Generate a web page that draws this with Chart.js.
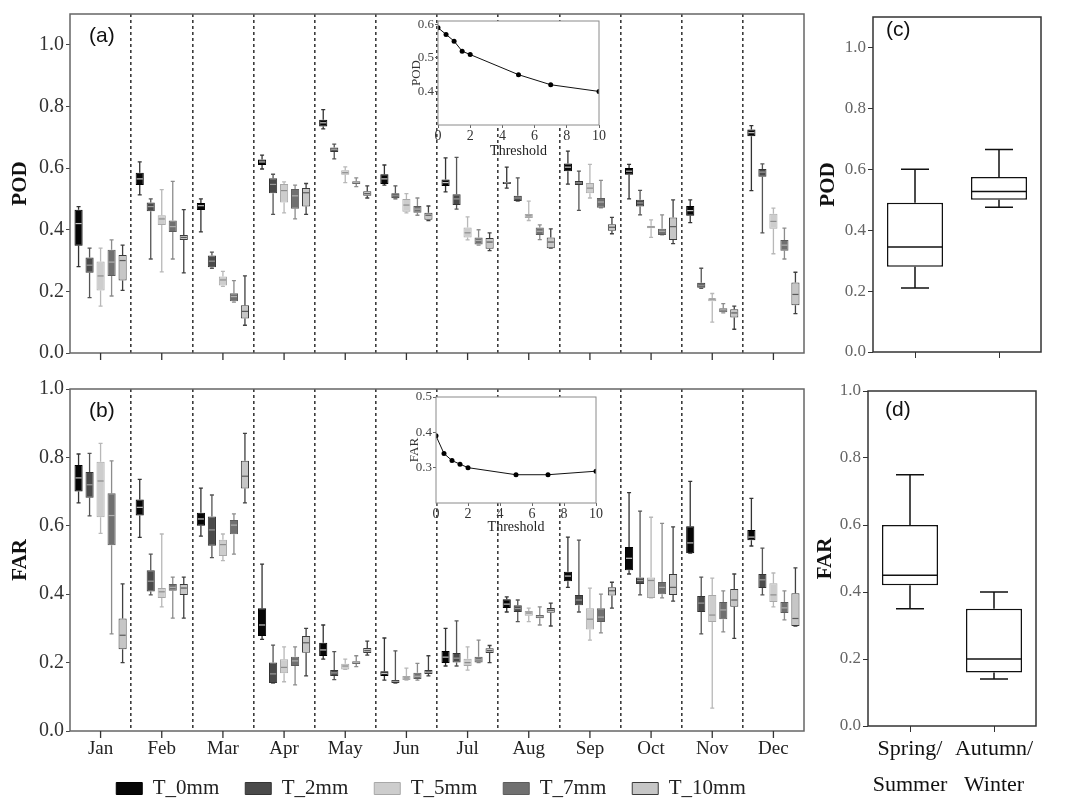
<!DOCTYPE html>
<html>
<head>
<meta charset="utf-8">
<script src="https://cdn.jsdelivr.net/npm/chart.js@4.4.1/dist/chart.umd.min.js"></script>
<style>
  body { margin: 0; background: #fff; width: 1067px; height: 798px; position: relative; overflow: hidden; }
  canvas { position: absolute; }
</style>
</head>
<body>
<canvas id="podMonth" style="left:0px;top:0px" width="820" height="370"></canvas>
<canvas id="farMonth" style="left:0px;top:370px" width="866" height="446"></canvas>
<canvas id="podInset" style="left:400px;top:10px" width="210" height="150"></canvas>
<canvas id="farInset" style="left:398px;top:386px" width="210" height="150"></canvas>
<canvas id="podSeason" style="left:806px;top:0px" width="261" height="370"></canvas>
<canvas id="farSeason" style="left:806px;top:370px" width="261" height="428"></canvas>
<script>
// ---- data: each box is [min, q1, median, q3, max] ----
const months = ["Jan","Feb","Mar","Apr","May","Jun","Jul","Aug","Sep","Oct","Nov","Dec"];
const seriesNames = ["T_0mm","T_2mm","T_5mm","T_7mm","T_10mm"];

const podT0 = [[0.28,0.348,0.42,0.465,0.475],[0.513,0.545,0.565,0.585,0.62],[0.393,0.464,0.478,0.487,0.50],
  [0.597,0.61,0.62,0.628,0.642],[0.727,0.735,0.747,0.757,0.79],[0.545,0.548,0.565,0.58,0.61],
  [0.523,0.542,0.553,0.563,0.633],[0.535,0.548,0.552,0.555,0.603],[0.548,0.59,0.603,0.615,0.655],
  [0.50,0.578,0.59,0.60,0.612],[0.423,0.445,0.462,0.477,0.497],[0.527,0.703,0.715,0.725,0.738]];
const podT2 = [[0.18,0.26,0.285,0.31,0.34],[0.305,0.46,0.475,0.488,0.50],[0.275,0.278,0.298,0.316,0.327],
  [0.45,0.518,0.547,0.567,0.58],[0.63,0.652,0.66,0.667,0.678],[0.50,0.502,0.51,0.518,0.542],
  [0.467,0.48,0.50,0.515,0.635],[0.493,0.493,0.503,0.51,0.568],[0.463,0.545,0.552,0.558,0.59],
  [0.448,0.475,0.487,0.497,0.528],[0.21,0.212,0.22,0.228,0.275],[0.39,0.572,0.587,0.597,0.614]];
const podT5 = [[0.152,0.203,0.25,0.297,0.34],[0.263,0.415,0.435,0.447,0.53],[0.216,0.219,0.237,0.248,0.265],
  [0.455,0.488,0.527,0.548,0.555],[0.553,0.578,0.585,0.593,0.604],[0.455,0.458,0.48,0.50,0.517],
  [0.367,0.375,0.39,0.407,0.442],[0.43,0.438,0.445,0.451,0.493],[0.503,0.518,0.535,0.552,0.612],
  [0.375,0.405,0.409,0.413,0.432],[0.10,0.168,0.175,0.178,0.193],[0.322,0.403,0.427,0.452,0.47]];
const podT7 = [[0.185,0.25,0.295,0.335,0.367],[0.305,0.393,0.41,0.43,0.557],[0.165,0.168,0.183,0.194,0.235],
  [0.435,0.468,0.51,0.532,0.545],[0.54,0.548,0.553,0.557,0.568],[0.447,0.455,0.467,0.477,0.503],
  [0.35,0.352,0.365,0.375,0.40],[0.368,0.383,0.395,0.407,0.416],[0.471,0.471,0.49,0.503,0.56],
  [0.383,0.383,0.395,0.403,0.448],[0.13,0.132,0.14,0.145,0.16],[0.305,0.332,0.35,0.367,0.405]];
const podT10 = [[0.203,0.235,0.30,0.318,0.35],[0.26,0.367,0.375,0.383,0.465],[0.09,0.112,0.135,0.155,0.25],
  [0.45,0.475,0.52,0.535,0.55],[0.503,0.51,0.517,0.525,0.542],[0.43,0.432,0.447,0.455,0.477],
  [0.332,0.338,0.36,0.373,0.39],[0.34,0.34,0.36,0.375,0.403],[0.387,0.397,0.408,0.418,0.44],
  [0.355,0.367,0.41,0.44,0.497],[0.077,0.115,0.13,0.142,0.152],[0.128,0.155,0.19,0.229,0.262]];

const farT0 = [[0.667,0.70,0.74,0.778,0.81],[0.566,0.63,0.654,0.677,0.736],[0.57,0.60,0.62,0.638,0.71],
  [0.268,0.278,0.31,0.359,0.488],[0.21,0.219,0.237,0.258,0.31],[0.149,0.161,0.168,0.175,0.272],
  [0.19,0.199,0.216,0.234,0.30],[0.348,0.36,0.371,0.385,0.392],[0.42,0.438,0.453,0.466,0.567],
  [0.459,0.47,0.505,0.538,0.697],[0.52,0.52,0.55,0.599,0.73],[0.541,0.558,0.567,0.588,0.68]];
const farT2 = [[0.629,0.682,0.72,0.757,0.812],[0.398,0.408,0.438,0.47,0.517],[0.507,0.542,0.588,0.627,0.69],
  [0.14,0.14,0.167,0.20,0.251],[0.15,0.161,0.17,0.178,0.232],[0.14,0.14,0.145,0.149,0.234],
  [0.19,0.20,0.213,0.228,0.322],[0.32,0.348,0.358,0.368,0.383],[0.348,0.368,0.383,0.398,0.558],
  [0.398,0.43,0.44,0.449,0.643],[0.284,0.348,0.374,0.395,0.45],[0.398,0.418,0.442,0.459,0.535]];
const farT5 = [[0.578,0.625,0.731,0.787,0.841],[0.363,0.389,0.407,0.418,0.576],[0.498,0.512,0.545,0.559,0.576],
  [0.144,0.169,0.186,0.21,0.246],[0.18,0.18,0.19,0.197,0.21],[0.149,0.149,0.155,0.161,0.184],
  [0.178,0.19,0.20,0.211,0.246],[0.32,0.337,0.345,0.351,0.359],[0.266,0.297,0.327,0.359,0.418],
  [0.389,0.389,0.44,0.449,0.625],[0.067,0.319,0.339,0.398,0.447],[0.363,0.377,0.398,0.432,0.462]];
const farT7 = [[0.284,0.543,0.63,0.695,0.79],[0.33,0.41,0.42,0.43,0.45],[0.517,0.575,0.602,0.617,0.635],
  [0.135,0.19,0.205,0.217,0.246],[0.188,0.196,0.20,0.204,0.22],[0.149,0.152,0.16,0.17,0.198],
  [0.20,0.20,0.208,0.217,0.266],[0.31,0.33,0.335,0.339,0.363],[0.287,0.319,0.333,0.359,0.40],
  [0.389,0.40,0.42,0.436,0.607],[0.29,0.327,0.354,0.377,0.41],[0.325,0.345,0.36,0.377,0.41]];
const farT10 = [[0.20,0.239,0.28,0.329,0.43],[0.33,0.398,0.418,0.43,0.45],[0.667,0.709,0.745,0.79,0.87],
  [0.161,0.229,0.258,0.278,0.30],[0.222,0.228,0.235,0.243,0.263],[0.161,0.167,0.173,0.178,0.22],
  [0.20,0.228,0.235,0.242,0.25],[0.307,0.346,0.353,0.36,0.374],[0.359,0.396,0.41,0.42,0.435],
  [0.38,0.398,0.42,0.459,0.597],[0.271,0.363,0.383,0.415,0.459],[0.307,0.307,0.329,0.403,0.477]];

const seasons = [["Spring/","Summer"],["Autumn/","Winter"]];
const podBySeason = [[0.21,0.28,0.345,0.49,0.60],[0.475,0.50,0.527,0.575,0.665]];
const farBySeason = [[0.35,0.42,0.45,0.60,0.75],[0.14,0.16,0.20,0.35,0.40]];

const thresholds = [0, 0.5, 1, 1.5, 2, 5, 7, 10];
const podByThreshold = [0.59, 0.57, 0.55, 0.52, 0.51, 0.45, 0.42, 0.40];
const farByThreshold = [0.39, 0.34, 0.32, 0.31, 0.30, 0.28, 0.28, 0.29];

// ---- styles ----
const boxFill    = ["#060606","#4a4a4a","#cdcdcd","#707070","#c6c6c6"];
const boxEdge    = ["#000000","#353535","#a8a8a8","#5c5c5c","#3a3a3a"];
const whiskerCol = ["#333333","#555555","#b8b8b8","#8c8c8c","#404040"];
const medianCol  = ["#c4c4c4","#9a9a9a","#8d8d8d","#b0b0b0","#5a5a5a"];
const SERIF = '"Liberation Serif", "Times New Roman", serif';
const SANS = '"Liberation Sans", Arial, sans-serif';

// --- whiskers + medians on top of floating bars ---
const boxPlot = {
  id: "boxPlot",
  beforeDatasetsDraw(chart, args, o) {
    const { ctx } = chart, y = chart.scales.y;
    chart.data.datasets.forEach((ds, i) => {
      chart.getDatasetMeta(i).data.forEach((bar, j) => {
        const s = ds.stats[j], x = bar.x, c = o.cap / 2;
        const top = y.getPixelForValue(s[4]), bot = y.getPixelForValue(s[0]);
        ctx.save();
        ctx.strokeStyle = ds.whisker;
        ctx.lineWidth = o.lineWidth;
        ctx.beginPath();
        ctx.moveTo(x, top); ctx.lineTo(x, y.getPixelForValue(s[3]));
        ctx.moveTo(x, bot); ctx.lineTo(x, y.getPixelForValue(s[1]));
        ctx.moveTo(x - c, top); ctx.lineTo(x + c, top);
        ctx.moveTo(x - c, bot); ctx.lineTo(x + c, bot);
        ctx.stroke();
        ctx.restore();
      });
    });
  },
  afterDatasetsDraw(chart, args, o) {
    const { ctx } = chart, y = chart.scales.y;
    chart.data.datasets.forEach((ds, i) => {
      chart.getDatasetMeta(i).data.forEach((bar, j) => {
        const py = y.getPixelForValue(ds.stats[j][2]), hw = bar.width / 2 - o.inset;
        ctx.save();
        ctx.strokeStyle = ds.median;
        ctx.lineWidth = o.medianWidth;
        ctx.beginPath();
        ctx.moveTo(bar.x - hw, py); ctx.lineTo(bar.x + hw, py);
        ctx.stroke();
        ctx.restore();
      });
    });
  }
};

// --- frame round the plot area, centre ticks, panel letter ---
const frame = {
  id: "frame",
  beforeDraw(chart, args, o) {
    if (!o.background) return;
    const { ctx, chartArea: a } = chart;
    ctx.save();
    ctx.fillStyle = o.background;
    ctx.fillRect(a.left, a.top, a.right - a.left, a.bottom - a.top);
    ctx.restore();
  },
  afterDraw(chart, args, o) {
    const { ctx, chartArea: a } = chart;
    ctx.save();
    ctx.strokeStyle = o.color;
    ctx.lineWidth = o.width;
    ctx.strokeRect(a.left, a.top, a.right - a.left, a.bottom - a.top);
    if (o.centerTicks) {
      const x = chart.scales.x;
      ctx.strokeStyle = "#333";
      ctx.lineWidth = 1.3;
      ctx.beginPath();
      x.getLabels().forEach((m, i) => {
        const px = x.getPixelForValue(i);
        ctx.moveTo(px, a.bottom); ctx.lineTo(px, a.bottom + o.centerTicks);
      });
      ctx.stroke();
    }
    if (o.label) {
      ctx.fillStyle = "#111";
      ctx.font = "21px " + SANS;
      ctx.textBaseline = "middle";
      ctx.fillText(o.label, a.left + o.lx, a.top + o.ly);
    }
    ctx.restore();
  }
};

// --- nudge the legend box after layout (it is centred on the full canvas otherwise) ---
const legendShift = {
  id: "legendShift",
  afterLayout(chart, args, o) {
    const lg = chart.legend;
    if (!lg) return;
    lg.left += o.dx; lg.right += o.dx;
    lg.top += o.dy; lg.bottom += o.dy;
  }
};

function monthSets(stats) {
  return stats.map((s, k) => ({
    label: seriesNames[k],
    data: s.map(v => [v[1], v[3]]),
    stats: s,
    backgroundColor: boxFill[k],
    borderColor: boxEdge[k],
    borderWidth: 1,
    borderSkipped: false,
    whisker: whiskerCol[k],
    median: medianCol[k],
    barPercentage: 0.74,
    categoryPercentage: 0.9
  }));
}

function fixedTicks(values) {
  return s => { s.ticks = values.map(v => ({ value: v })); };
}

function monthChart(id, title, stats, yMax, opts) {
  return new Chart(document.getElementById(id), {
    type: "bar",
    data: { labels: months, datasets: monthSets(stats) },
    options: {
      responsive: false,
      animation: false,
      layout: { padding: opts.padding },
      plugins: {
        legend: opts.legend,
        legendShift: { dx: 29, dy: -7 },
        tooltip: { enabled: false },
        boxPlot: { cap: 4, lineWidth: 1.3, medianWidth: 1.2, inset: 1 },
        frame: { color: "#666", width: 1.5, centerTicks: 7, label: opts.label, lx: 19, ly: 22 }
      },
      scales: {
        x: {
          afterFit: s => { s.height = opts.xHeight; },
          grid: {
            offset: true,
            drawTicks: false,
            lineWidth: 1.6,
            color: c => (c.index > 0 && c.index < months.length) ? "#3c3c3c" : "rgba(0,0,0,0)"
          },
          border: { display: false, dash: [3, 3] },
          ticks: {
            display: opts.showMonths,
            padding: 7,
            color: "#222",
            font: { family: SERIF, size: 19 }
          }
        },
        y: {
          min: 0, max: yMax,
          afterFit: s => { s.width = 70; },
          afterBuildTicks: fixedTicks([0, 0.2, 0.4, 0.6, 0.8, 1.0]),
          grid: { drawOnChartArea: false, tickLength: 4, color: "#444" },
          border: { display: false },
          ticks: { padding: 2, color: "#333", font: { family: SERIF, size: 20 }, callback: v => v.toFixed(1) },
          title: { display: true, text: title, color: "#111", padding: { top: 10, bottom: 10 },
                   font: { family: SERIF, size: 21, weight: "bold", lineHeight: 1 } }
        }
      }
    },
    plugins: [boxPlot, frame, legendShift]
  });
}

monthChart("podMonth", "POD", [podT0, podT2, podT5, podT7, podT10], 1.1, {
  padding: { top: 12, right: 16, left: 0, bottom: 0 },
  xHeight: 17, showMonths: false, label: "(a)", legend: { display: false }
});

monthChart("farMonth", "FAR", [farT0, farT2, farT5, farT7, farT10], 1.0, {
  padding: { top: 19, right: 62, left: 0, bottom: 0 },
  xHeight: 28, showMonths: true, label: "(b)",
  legend: {
    display: true, position: "bottom",
    labels: { boxWidth: 26, boxHeight: 12, padding: 26, color: "#222", font: { family: SERIF, size: 21 } }
  }
});

function insetChart(id, title, values, yMin, yMax, yTicks, opts) {
  return new Chart(document.getElementById(id), {
    type: "scatter",
    data: {
      datasets: [{
        data: thresholds.map((t, i) => ({ x: t, y: values[i] })),
        showLine: true,
        borderColor: "#111",
        borderWidth: 1,
        backgroundColor: "#000",
        pointRadius: 2.5,
        pointBorderWidth: 0
      }]
    },
    options: {
      responsive: false,
      animation: false,
      layout: { padding: opts.padding },
      plugins: {
        legend: { display: false },
        tooltip: { enabled: false },
        frame: { color: "#8a8a8a", width: 1, background: "#fff" }
      },
      scales: {
        x: {
          min: 0, max: 10,
          afterFit: s => { s.height = opts.xHeight; },
          afterBuildTicks: fixedTicks([0, 2, 4, 6, 8, 10]),
          grid: { drawOnChartArea: false, tickLength: 3, color: "#666" },
          border: { display: false },
          ticks: { padding: 1, color: "#333", font: { family: SERIF, size: 14, lineHeight: 1 } },
          title: { display: true, text: "Threshold", color: "#222", padding: { top: 0, bottom: 2 },
                   font: { family: SERIF, size: 14, lineHeight: 1 } }
        },
        y: {
          min: yMin, max: yMax,
          afterFit: s => { s.width = 38; },
          afterBuildTicks: fixedTicks(yTicks),
          grid: { drawOnChartArea: false, tickLength: 3, color: "#666" },
          border: { display: false },
          ticks: { padding: 1, color: "#444", font: { family: SERIF, size: 13 }, callback: v => v.toFixed(1) },
          title: { display: true, text: title, color: "#333", padding: { top: 10, bottom: 10 },
                   font: { family: SERIF, size: 13, lineHeight: 1 } }
        }
      }
    },
    plugins: [frame]
  });
}

insetChart("podInset", "POD", podByThreshold, 0.3, 0.61, [0.4, 0.5, 0.6],
  { padding: { top: 11, right: 11, left: 0, bottom: 0 }, xHeight: 35 });
insetChart("farInset", "FAR", farByThreshold, 0.2, 0.5, [0.3, 0.4, 0.5],
  { padding: { top: 11, right: 12, left: 0, bottom: 0 }, xHeight: 33 });

function seasonChart(id, title, stats, yMax, opts) {
  return new Chart(document.getElementById(id), {
    type: "bar",
    data: {
      labels: seasons,
      datasets: [{
        data: stats.map(v => [v[1], v[3]]),
        stats: stats,
        backgroundColor: "#fff",
        borderColor: "#111",
        borderWidth: 1.5,
        borderSkipped: false,
        whisker: "#111",
        median: "#111",
        barPercentage: 0.667,
        categoryPercentage: 1
      }]
    },
    options: {
      responsive: false,
      animation: false,
      layout: { padding: opts.padding },
      plugins: {
        legend: { display: false },
        tooltip: { enabled: false },
        boxPlot: { cap: 28, lineWidth: 1.5, medianWidth: 1.5, inset: 0 },
        frame: { color: "#333", width: 1.5, label: opts.label, lx: opts.lx, ly: opts.ly }
      },
      scales: {
        x: {
          afterFit: s => { s.height = opts.xHeight; },
          grid: { offset: false, drawOnChartArea: false, tickLength: 6, color: "#333" },
          border: { display: false },
          ticks: {
            display: opts.showLabels, padding: 0, color: "#111",
            maxRotation: 0, minRotation: 0, autoSkip: false,
            font: { family: SERIF, size: 22, lineHeight: 1.6 }
          }
        },
        y: {
          min: 0, max: yMax,
          afterFit: s => { s.width = opts.yWidth; },
          afterBuildTicks: fixedTicks([0, 0.2, 0.4, 0.6, 0.8, 1.0]),
          grid: { drawOnChartArea: false, tickLength: 5, color: "#333" },
          border: { display: false },
          ticks: { padding: 2, color: "#666", font: { family: SERIF, size: 17 }, callback: v => v.toFixed(1) },
          title: { display: true, text: title, color: "#111", padding: { top: opts.titlePad, bottom: opts.titlePad },
                   font: { family: SERIF, size: 21, weight: "bold", lineHeight: 1 } }
        }
      }
    },
    plugins: [boxPlot, frame]
  });
}

seasonChart("podSeason", "POD", podBySeason, 1.1, {
  padding: { top: 17, right: 26, left: 0, bottom: 0 },
  xHeight: 18, yWidth: 67, titlePad: 12, showLabels: false, label: "(c)", lx: 13, ly: 13
});
seasonChart("farSeason", "FAR", farBySeason, 1.0, {
  padding: { top: 21, right: 31, left: 0, bottom: 0 },
  xHeight: 72, yWidth: 62, titlePad: 9, showLabels: true, label: "(d)", lx: 17, ly: 19
});
</script>
</body>
</html>
